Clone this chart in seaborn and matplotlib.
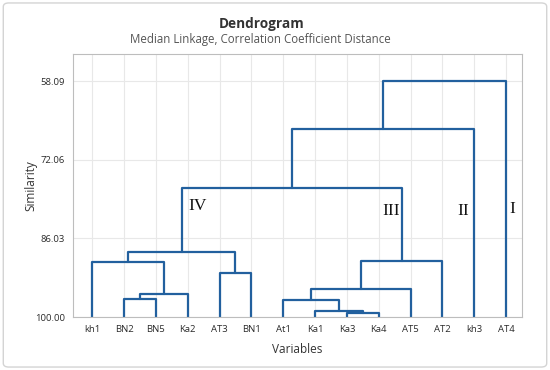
import pandas as pd
import seaborn as sns
import matplotlib.pyplot as plt
from matplotlib.patches import FancyBboxPatch

# leaves in plotting order
leaves = ['kh1', 'BN2', 'BN5', 'Ka2', 'AT3', 'BN1', 'At1',
          'Ka1', 'Ka3', 'Ka4', 'AT5', 'AT2', 'kh3', 'AT4']

# merges: cluster c<i> is formed by merge_a[i] + merge_b[i] at merge_sim[i]
merge_a = ['BN2', 'c0', 'kh1', 'AT3', 'c2', 'Ka3', 'Ka1', 'At1', 'c7', 'c8', 'c4', 'c10', 'c11']
merge_b = ['BN5', 'Ka2', 'c1', 'BN1', 'c3', 'Ka4', 'c5', 'c6', 'AT5', 'AT2', 'c9', 'kh3', 'AT4']
merge_sim = [96.8, 95.9, 90.3, 92.2, 88.4, 99.3, 99.0, 96.9, 95.1, 90.1, 77.0, 66.67, 58.09]

yticks = [58.09, 72.06, 86.03, 100.00]

group_names = ['IV', 'III', 'II', 'I']
group_x = [3.3, 9.38, 11.65, 13.2]
group_y = [80.2, 81.1, 81.1, 80.8]

# build the link segments
pos = {name: (i, 100.0) for i, name in enumerate(leaves)}
rows = []
for i, (a, b, h) in enumerate(zip(merge_a, merge_b, merge_sim)):
    xa, ya = pos[a]
    xb, yb = pos[b]
    for x, y in [(xa, ya), (xa, h), (xb, h), (xb, yb)]:
        rows.append({'link': i, 'x': x, 'y': y})
    pos['c%d' % i] = ((xa + xb) / 2, h)
df = pd.DataFrame(rows)

sns.set_style('white')
plt.rcParams['font.family'] = ['Open Sans', 'DejaVu Sans']

fig = plt.figure(figsize=(5.5, 3.7), dpi=100)
ax = fig.add_axes([0.133, 0.143, 0.816, 0.711])

sns.lineplot(data=df, x='x', y='y', units='link', estimator=None, sort=False,
             color='#22609e', linewidth=1.6, ax=ax, legend=False)

ax.set_xlim(-0.6, 13.5)
ax.set_ylim(100, 53.3)
ax.set_xticks(range(len(leaves)))
ax.set_xticklabels(leaves, fontsize=6.8, color='#2a2a2a')
ax.set_yticks(yticks)
ax.set_yticklabels(['%.2f' % v for v in yticks], fontsize=6.8, color='#2a2a2a')
ax.tick_params(axis='both', length=3, width=0.6, color='#999999', pad=3)
ax.grid(True, color='#e8e8e8', linewidth=0.8)
ax.set_axisbelow(True)
for s in ax.spines.values():
    s.set_color('#bdbdbd')
    s.set_linewidth(0.8)

ax.set_xlabel('Variables', fontsize=8.5, color='#333333', labelpad=6)
ax.set_ylabel('Similarity', fontsize=8.5, color='#333333', labelpad=-2)

for name, gx, gy in zip(group_names, group_x, group_y):
    ax.text(gx, gy, name, ha='center', va='center', fontsize=12.5,
            family='Liberation Serif', color='#111111')

fig.text(0.475, 0.936, 'Dendrogram', ha='center', va='center',
         fontsize=9.8, fontweight='bold', color='#333333')
fig.text(0.473, 0.893, 'Median Linkage, Correlation Coefficient Distance',
         ha='center', va='center', fontsize=8.3, color='#555555')

fig.patches.append(FancyBboxPatch((0.006, 0.008), 0.988, 0.984,
                                  boxstyle='round,pad=0,rounding_size=0.01',
                                  transform=fig.transFigure, fill=False,
                                  edgecolor='#d4d4d4', linewidth=1.0))

fig.savefig('out.png', dpi=100)
